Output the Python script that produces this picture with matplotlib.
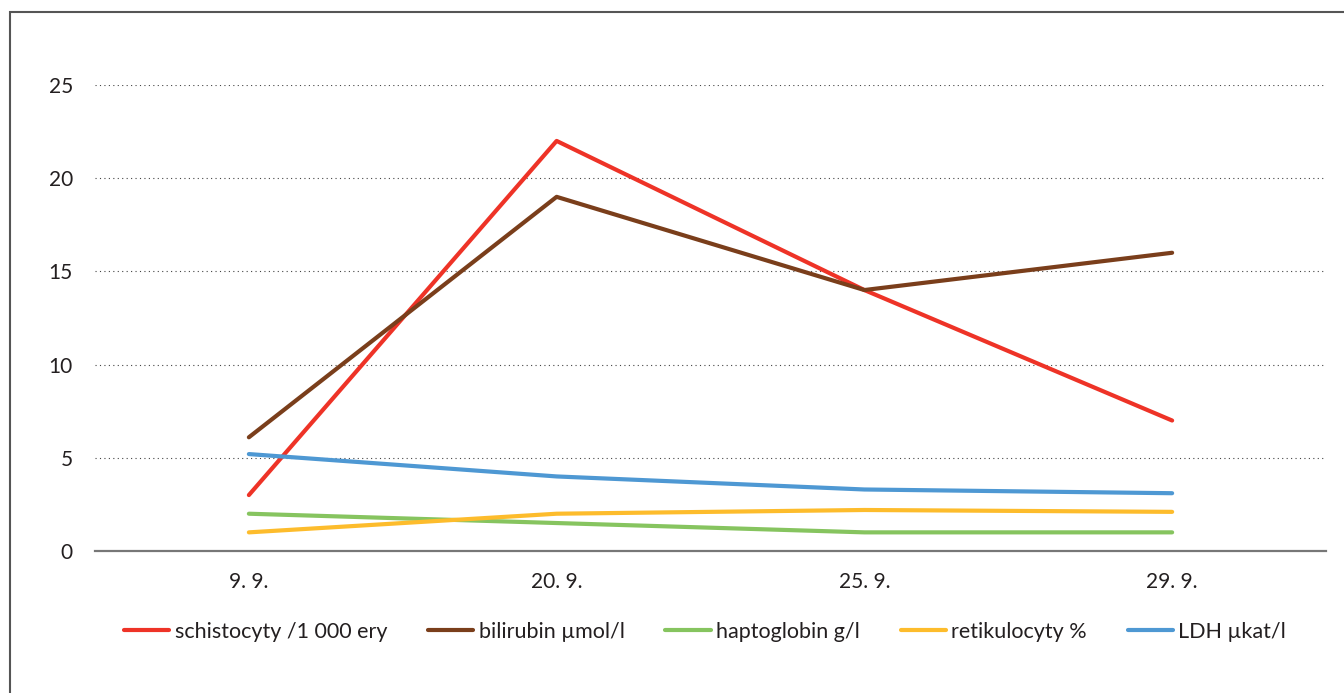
import matplotlib.pyplot as plt
from matplotlib.patches import Rectangle

plt.rcParams['font.family'] = ['Lato', 'DejaVu Sans']

dates = ["9. 9.", "20. 9.", "25. 9.", "29. 9."]
schistocyty = [3, 22, 14, 7]
bilirubin = [6.1, 19, 14, 16]
haptoglobin = [2, 1.5, 1, 1]
retikulocyty = [1, 2, 2.2, 2.1]
ldh = [5.2, 4, 3.3, 3.1]

series = [
    ("schistocyty /1 000 ery", schistocyty, "#EE3327"),
    ("bilirubin µmol/l", bilirubin, "#7A3E1B"),
    ("haptoglobin g/l", haptoglobin, "#86C45F"),
    ("retikulocyty %", retikulocyty, "#FDBC2C"),
    ("LDH µkat/l", ldh, "#4E98D3"),
]

fig = plt.figure(figsize=(13.44, 6.93), dpi=100)
# frame around the figure (only left/top visible)
fig.patches.append(Rectangle((10 / 1344, -0.1), 1.2, 1 - 12 / 693 + 0.1,
                             transform=fig.transFigure, fill=False,
                             edgecolor="#555555", linewidth=1.5))

ax = fig.add_axes([95 / 1344, 1 - 551 / 693, (1326 - 95) / 1344, (551 - 85) / 693])
x = range(len(dates))
for label, vals, color in series:
    ax.plot(x, vals, color=color, lw=3, label=label, solid_capstyle="round")

ax.set_xlim(-0.5, len(dates) - 0.5)
ax.set_ylim(0, 25)
ax.set_yticks([0, 5, 10, 15, 20, 25])
ax.set_xticks(list(x))
ax.set_xticklabels(dates)
ax.yaxis.grid(True, linestyle=(0, (1, 3)), color="#444444", linewidth=0.8)
ax.set_axisbelow(True)
for s in ["top", "right", "left"]:
    ax.spines[s].set_visible(False)
ax.spines["bottom"].set_color("#777777")
ax.spines["bottom"].set_linewidth(1.6)
ax.tick_params(axis="both", length=0, labelsize=15, colors="#231F20")
ax.tick_params(axis="y", pad=16)
ax.tick_params(axis="x", pad=15)

fig.legend(loc="center", bbox_to_anchor=(705 / 1344, 1 - 632 / 693), ncol=5,
           frameon=False, fontsize=15.5, handlelength=2.1, handletextpad=0.25,
           columnspacing=1.9, labelcolor="#231F20")

fig.savefig("out.png", dpi=100)
